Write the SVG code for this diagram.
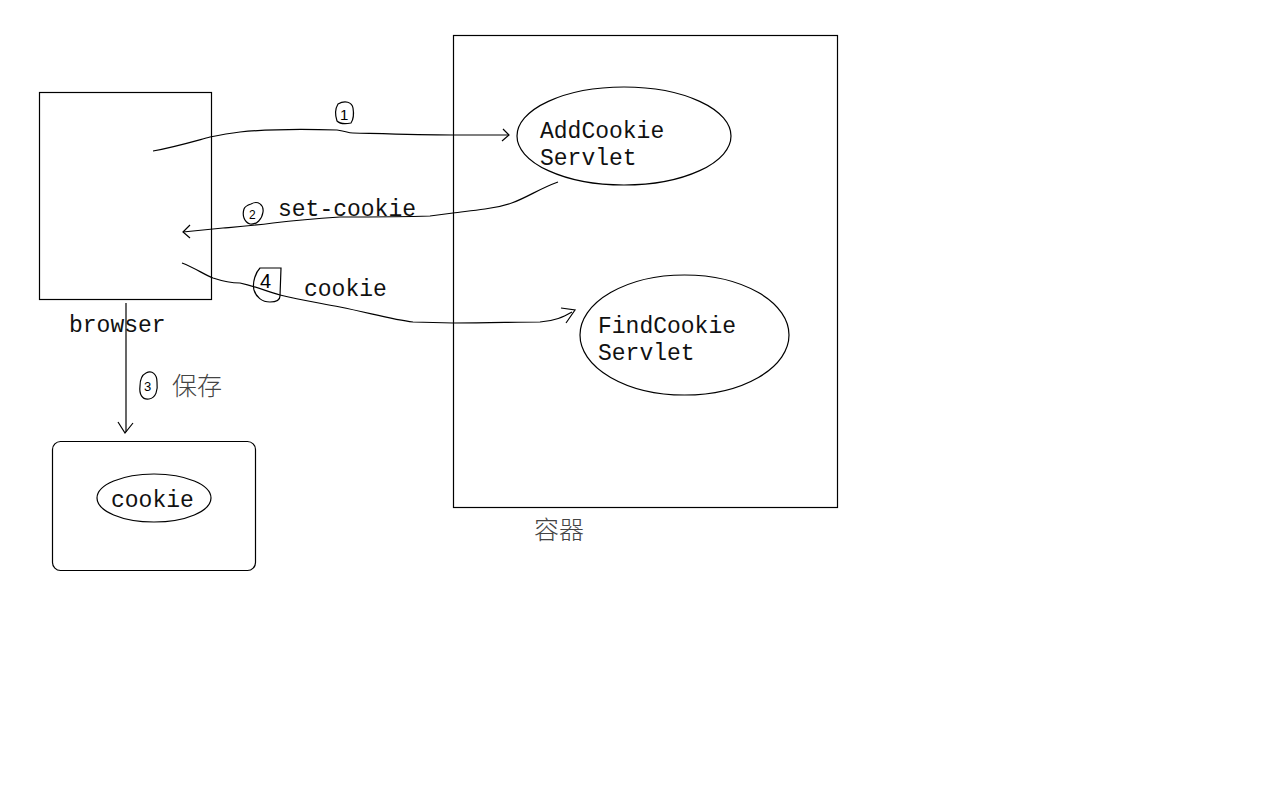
<svg xmlns="http://www.w3.org/2000/svg" width="1280" height="800" viewBox="0 0 1280 800">
<style>
.s{fill:none;stroke:#000;stroke-width:1.2}
.t{font-family:"Liberation Mono","Noto Sans CJK SC",monospace;font-size:23px;fill:#111}
.c{font-family:"Noto Sans CJK SC",sans-serif;font-size:25px;fill:#444;font-weight:300}
.n{font-family:"Liberation Sans",sans-serif;fill:#000}
</style>
<rect width="1280" height="800" fill="#fff"/>
<g id="browser">
<rect class="s" x="39.5" y="92.5" width="172" height="207"/>
<text class="t" x="69" y="332">browser</text>
</g>
<g id="container">
<rect class="s" x="453.5" y="35.5" width="384" height="472"/>
<text class="c" x="534" y="539">容器</text>
</g>
<g id="addcookie">
<ellipse class="s" cx="624" cy="136" rx="107" ry="49"/>
<text class="t" x="540" y="138">AddCookie</text>
<text class="t" x="540" y="165">Servlet</text>
</g>
<g id="findcookie">
<ellipse class="s" cx="684.5" cy="335" rx="104.5" ry="60"/>
<text class="t" x="598" y="333">FindCookie</text>
<text class="t" x="598" y="360">Servlet</text>
</g>
<g id="storage">
<rect class="s" x="52.5" y="441.5" width="203" height="129" rx="8"/>
<ellipse class="s" cx="154" cy="498" rx="57" ry="24"/>
<text class="t" x="111" y="507">cookie</text>
</g>
<g id="connectors">
<path class="s" d="M153,151 C175,147 195,141 210,137 C225,134 232,133 240,132 C270,129 310,129 337,130 C345,131 348,133 353,133 C390,134 420,135 453,135 L508,135"/>
<path class="s" d="M503,129 L509,135 L502,141"/>
<path class="s" d="M558,182 C530,192 520,205 485,209 C470,211 460,212 453,213 L430,216 C400,217 370,217 340,217 C310,219 290,221 273,223 C250,226 235,227 223,228 L183,232"/>
<path class="s" d="M190,225 L183,232 L190,238"/>
<path class="s" d="M182,263 C195,268 205,275 213,278 C225,282 232,283 240,283 C258,287 268,292 280,295 C300,300 320,303 340,307 C370,313 393,320 413,322 L453,323 C490,323 515,322 540,322 C555,321 563,317 572,312"/>
<path class="s" d="M561,308 L575,310 L566,323"/>
<path class="s" d="M126,303 L126,432"/>
<path class="s" d="M118,422 L125,433 L133,423"/>
</g>
<g id="labels">
<path class="s" d="M338,104 C345,100 352,102 353,108 C354,114 353,120 351,123 C346,124 340,124 337,121 C335,115 335,109 338,104 Z"/>
<text class="n" x="340" y="120" style="font-size:15px">1</text>
<path class="s" d="M251,204 C258,200 264,205 263,212 C262,219 257,225 250,224 C244,222 242,215 244,209 C245,206 248,205 251,204"/>
<text class="n" x="249" y="219" style="font-size:12px">2</text>
<text class="t" x="278" y="216">set-cookie</text>
<path class="s" d="M146,373 C152,370 157,374 157,382 C158,390 156,398 149,399 C142,400 139,394 140,386 C140,379 142,375 146,373"/>
<text class="n" x="144" y="391" style="font-size:13px">3</text>
<text class="c" x="172" y="395">保存</text>
<path class="s" d="M260,268 C256,272 252,282 254,290 C256,297 262,302 270,302 C276,302 280,300 280,296 L281,268 Z"/>
<text class="n" x="260" y="288" style="font-size:20px">4</text>
<text class="t" x="304" y="296">cookie</text>
</g>
</svg>
